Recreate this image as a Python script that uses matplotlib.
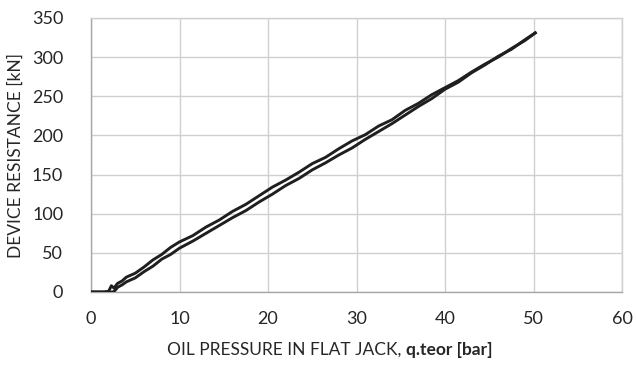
import matplotlib
matplotlib.use("Agg")
import matplotlib.pyplot as plt
from matplotlib.offsetbox import TextArea, HPacker, AnchoredOffsetbox

plt.rcParams['font.family'] = ['Lato', 'DejaVu Sans']

# ─── Calibration data: flat jack pressure vs device resistance ──────────────
pressure_up = [0, 0.5, 1.0, 1.5, 2.0, 2.3, 2.6, 3.0, 3.5, 4.0, 5.0, 6.0, 7.0,
               8.0, 9.0, 10.0, 11.5, 13.0, 14.5, 16.0, 17.5, 19.0, 20.5, 22.0,
               23.5, 25.0, 26.5, 28.0, 29.5, 31.0, 32.5, 34.0, 35.5, 37.0,
               38.5, 40.0, 41.5, 43.0, 44.5, 46.0, 47.5, 49.0, 50.2]
resistance_up = [0, 0, 0, 0, 1, 8, 5, 11, 14, 19, 24, 32, 41,
                 48, 57, 64, 72, 83, 92, 103, 112, 123, 134, 143,
                 153, 164, 172, 183, 193, 201, 212, 220, 232, 241,
                 252, 261, 270, 281, 291, 300, 311, 321, 331]

pressure_down = [0, 1.0, 2.0, 2.5, 2.8, 3.0, 3.5, 4.0, 5.0, 6.0, 7.0, 8.0,
                 9.0, 10.0, 11.5, 13.0, 14.5, 16.0, 17.5, 19.0, 20.5, 22.0,
                 23.5, 25.0, 26.5, 28.0, 29.5, 31.0, 32.5, 34.0, 35.5, 37.0,
                 38.5, 40.0, 41.5, 43.0, 44.5, 46.0, 47.5, 49.0, 50.2]
resistance_down = [0, 0, 0, 0, 3, 6, 9, 13, 18, 26, 33, 42,
                   48, 56, 65, 75, 85, 95, 104, 115, 125, 136,
                   145, 156, 165, 175, 184, 195, 205, 215, 226, 237,
                   247, 259, 268, 280, 290, 301, 310, 322, 331]

x_ticks = [0, 10, 20, 30, 40, 50, 60]
y_ticks = [0, 50, 100, 150, 200, 250, 300, 350]

TEXT = '#262626'
GRID = '#d0d0d0'

fig = plt.figure(figsize=(6.36, 3.66), dpi=100, facecolor='white')
ax = fig.add_axes([91 / 636, 74 / 366, 531 / 636, 274 / 366])

ax.plot(pressure_up, resistance_up, color='#1f1f1f', linewidth=2.1,
        solid_joinstyle='round', zorder=3)
ax.plot(pressure_down, resistance_down, color='#1f1f1f', linewidth=2.1,
        solid_joinstyle='round', zorder=3)

ax.set_xlim(0, 60)
ax.set_ylim(0, 350)
ax.set_xticks(x_ticks)
ax.set_yticks(y_ticks)
ax.grid(True, color=GRID, linewidth=1.0)
ax.set_axisbelow(True)
ax.tick_params(length=0, labelsize=13, colors=TEXT, pad=20)
ax.tick_params(axis='x', pad=14)
for side in ['top', 'right']:
    ax.spines[side].set_color(GRID)
    ax.spines[side].set_linewidth(1.0)
for side in ['left', 'bottom']:
    ax.spines[side].set_color('#a6a6a6')
    ax.spines[side].set_linewidth(1.0)

ax.set_ylabel('DEVICE RESISTANCE [kN]', fontsize=12.5, color=TEXT, labelpad=6)

# x label with bold variable part
part1 = TextArea('OIL PRESSURE IN FLAT JACK, ',
                 textprops=dict(fontsize=12.5, color=TEXT))
part2 = TextArea('q.teor [bar]',
                 textprops=dict(fontsize=12.5, color=TEXT, fontweight='bold'))
xlabel = HPacker(children=[part1, part2], align='baseline', pad=0, sep=0)
anchored = AnchoredOffsetbox(loc='center', child=xlabel, pad=0, frameon=False,
                             bbox_to_anchor=(330 / 636, 16 / 366),
                             bbox_transform=fig.transFigure, borderpad=0)
fig.add_artist(anchored)

fig.savefig('out.png', dpi=100, facecolor='white')
